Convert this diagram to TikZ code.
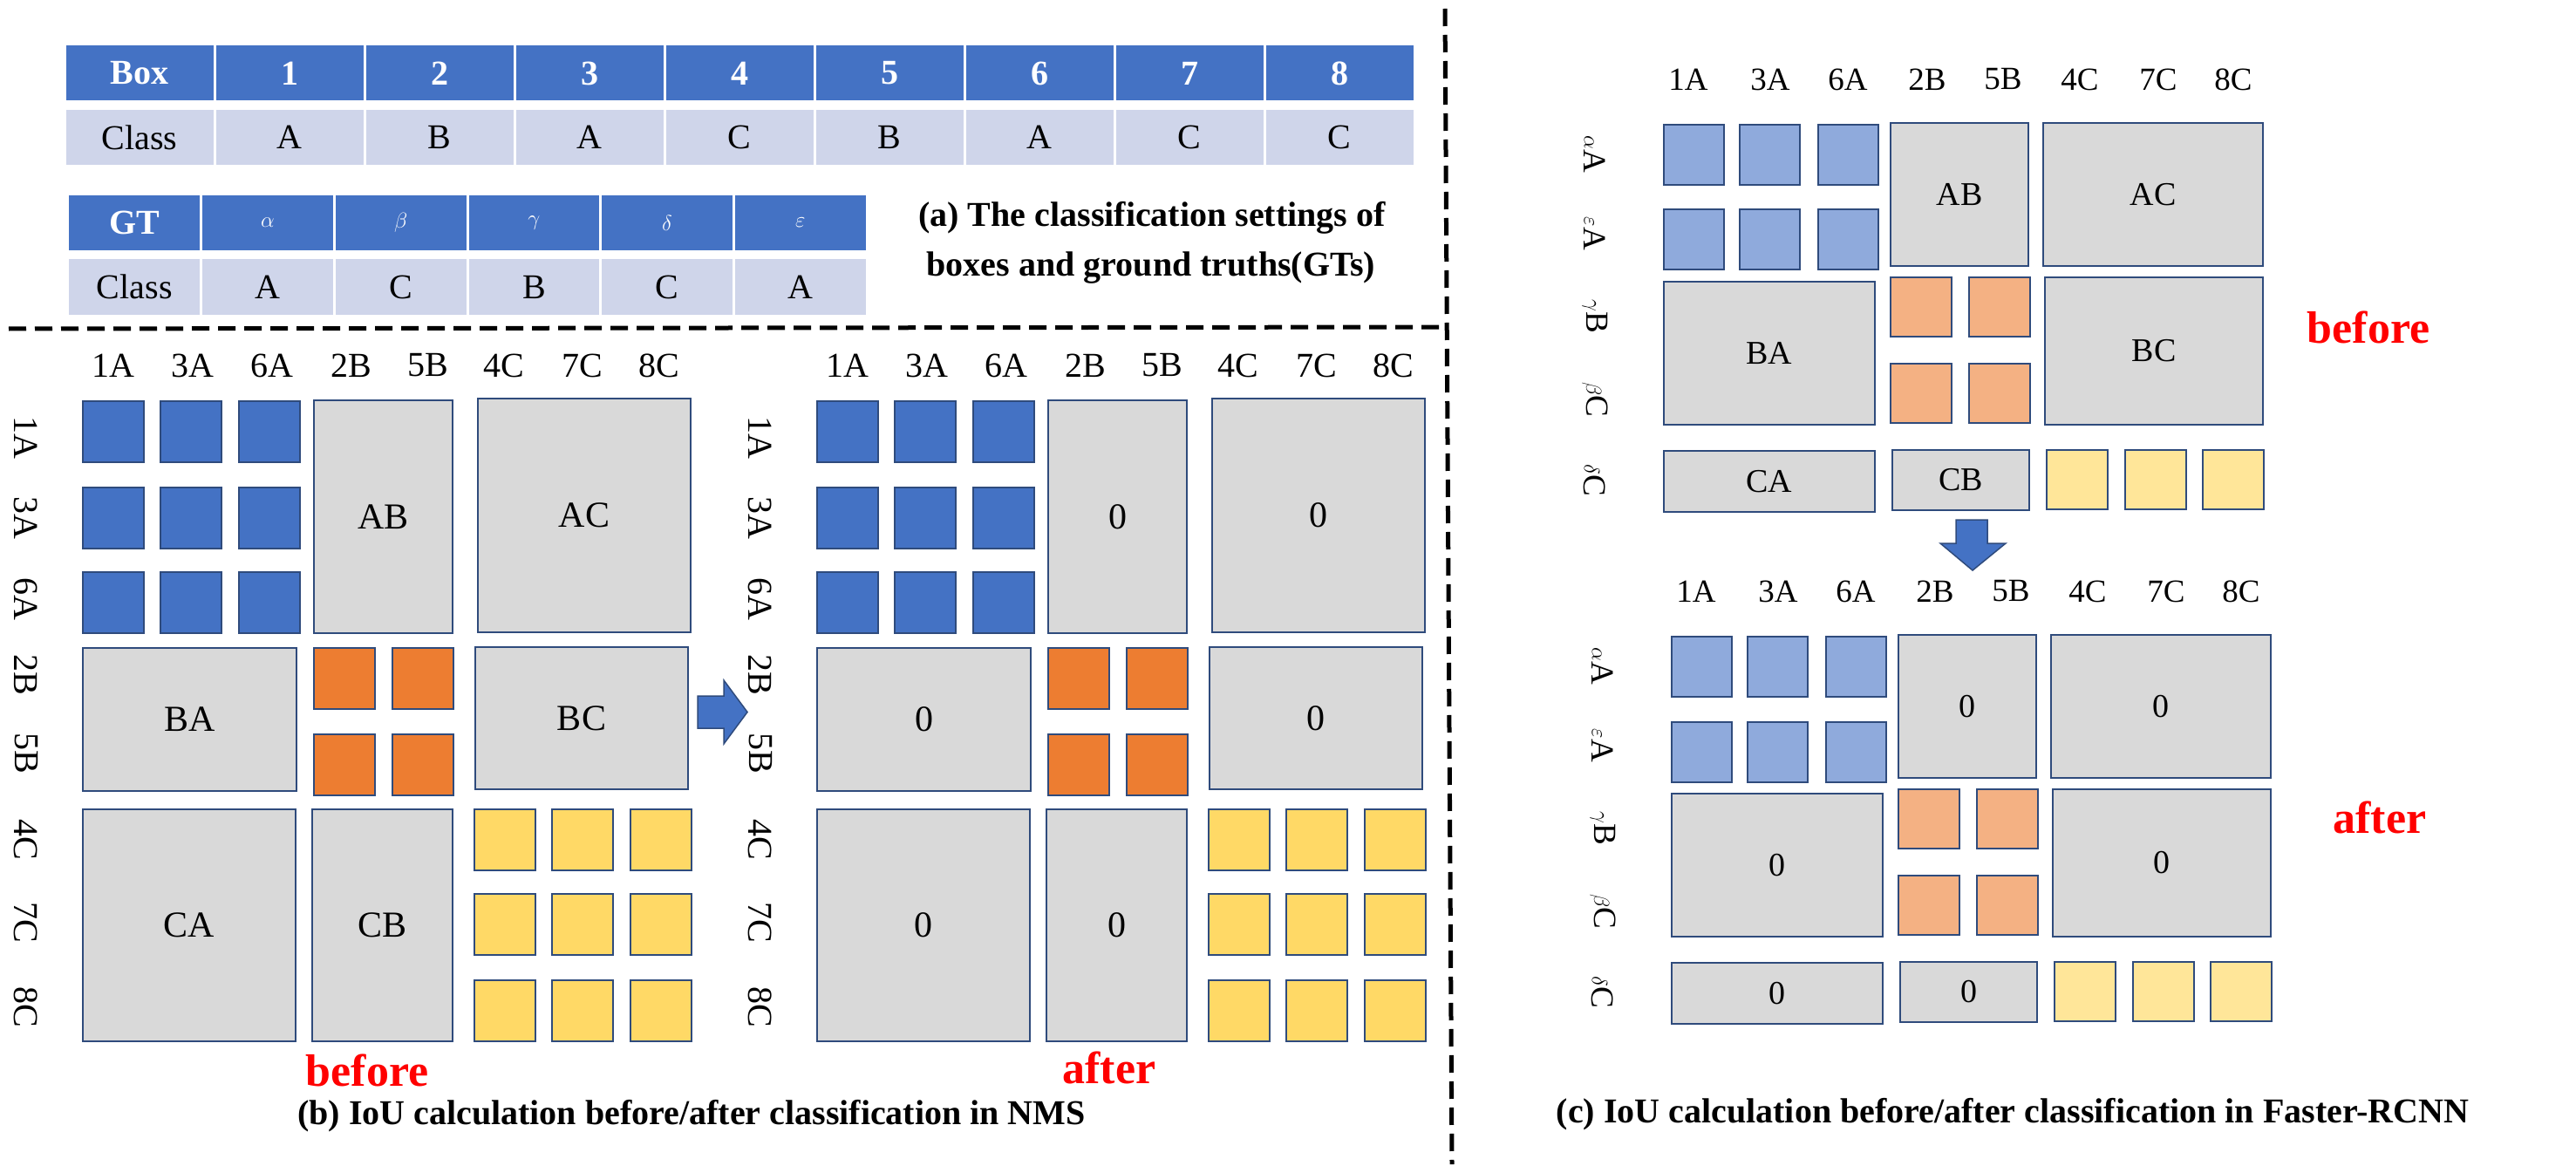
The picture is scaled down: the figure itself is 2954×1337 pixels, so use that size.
\documentclass[tikz,border=0pt]{standalone}
\usepackage{fontspec}
\setmainfont{Liberation Serif}
\begin{document}
\definecolor{hblue}{HTML}{4472C4}
\definecolor{rowc}{HTML}{CFD5EA}
\definecolor{dblue}{HTML}{4472C4}
\definecolor{dorange}{HTML}{ED7D31}
\definecolor{dyellow}{HTML}{FFD966}
\definecolor{lblue}{HTML}{8FAADC}
\definecolor{lorange}{HTML}{F4B183}
\definecolor{lyellow}{HTML}{FFE699}
\definecolor{cgrey}{HTML}{D9D9D9}
\definecolor{navy}{HTML}{2F4B7C}
\newcommand\fs[1]{\fontsize{#1}{#1}\selectfont}
\begin{tikzpicture}[x=1pt,y=-1pt,
  cell/.style={draw=navy,line width=2pt,inner sep=0pt,font=\fs{42}},
  tcell/.style={draw=white,line width=3pt,inner sep=0pt,minimum height=66,font=\fs{40}},
  th/.style={tcell,fill=hblue,text=white,font=\fs{40}\bfseries},
  tc/.style={tcell,fill=rowc},
  lab/.style={inner sep=0pt,font=\fs{40}},
  clab/.style={inner sep=0pt,font=\fs{37}},
  redlab/.style={inner sep=0pt,text=red,font=\fs{52}\bfseries},
  capt/.style={inner sep=0pt,font=\fs{40}\bfseries},
  sepline/.style={line width=5pt,dash pattern=on 20pt off 10pt}]
\useasboundingbox (0,0) rectangle (2954,1337);
% ---------- tables
\foreach \t [count=\i from 0] in {Box,1,2,3,4,5,6,7,8}
  \node[th,minimum width=172] (h\i) at (160+172*\i,84) {\t};
\foreach \t [count=\i from 0] in {Class,A,B,A,C,B,A,C,C}
  \node[tc,minimum width=172] (r\i) at (160+172*\i,157.5) {\t};
\foreach \t [count=\i from 0] in {GT,$\alpha$,$\beta$,$\gamma$,$\delta$,$\varepsilon$}
  \node[th,minimum width=152.7] (g\i) at (154.3+152.7*\i,255.5) {\t};
\foreach \t [count=\i from 0] in {Class,A,C,B,C,A}
  \node[tc,minimum width=152.7] (s\i) at (154.3+152.7*\i,329) {\t};
\node[capt] (capa1) at (1321,250) {(a) The classification settings of};
\node[capt] (capa2) at (1320,307) {boxes and ground truths(GTs)};
% ---------- dashed separators
\coordinate (hl) at (10,377); \coordinate (hr) at (1660,375);
\coordinate (vt) at (1657,10); \coordinate (vb) at (1665,1335);
\draw[sepline] (hl) -- (hr);
\draw[sepline] (vt) -- (vb);
% ---------- panel (b)
\foreach \p/\dx/\ab/\ac/\ba/\bc/\ca/\cb in {b/0/AB/AC/BA/BC/CA/CB, a/842/0/0/0/0/0/0}{
 \begin{scope}[shift={(\dx,0)}]
  \foreach \t/\x [count=\i] in {1A/130,3A/221,6A/312,2B/403,5B/491,4C/578,7C/668,8C/756}
    \node[lab] (\p col\i) at (\x,419) {\t};
  \foreach \t/\y [count=\i] in {1A/502,3A/594,6A/687,2B/774,5B/864,4C/963,7C/1058,8C/1155}
    \node[lab,rotate=-90] (\p row\i) at (30,\y) {\t};
  \foreach \x [count=\i] in {130,219,308.5}
   \foreach \y [count=\j] in {494.5,594,691}
    \node[cell,fill=dblue,minimum width=70,minimum height=70] (\p A\i\j) at (\x,\y) {};
  \foreach \x [count=\i] in {395,484.5}
   \foreach \y [count=\j] in {778,876.5}
    \node[cell,fill=dorange,minimum width=70,minimum height=70] (\p B\i\j) at (\x,\y) {};
  \foreach \x [count=\i] in {578.5,667.5,757.5}
   \foreach \y [count=\j] in {962.5,1059.5,1158.5}
    \node[cell,fill=dyellow,minimum width=70,minimum height=70] (\p C\i\j) at (\x,\y) {};
  \node[cell,fill=cgrey,minimum width=159,minimum height=267] (\p AB) at (439.5,592.5) {\ab};
  \node[cell,fill=cgrey,minimum width=244,minimum height=268] (\p AC) at (670,591) {\ac};
  \node[cell,fill=cgrey,minimum width=245,minimum height=164] (\p BA) at (217.5,825) {\ba};
  \node[cell,fill=cgrey,minimum width=244,minimum height=163] (\p BC) at (667,823.5) {\bc};
  \node[cell,fill=cgrey,minimum width=244,minimum height=266] (\p CA) at (217,1061) {\ca};
  \node[cell,fill=cgrey,minimum width=161,minimum height=266] (\p CB) at (438.5,1061) {\cb};
 \end{scope}}
\node[redlab] (bbefore) at (421,1227) {before};
\node[redlab] (bafter) at (1272,1224) {after};
\node[capt] (capb) at (793,1280) {(b) IoU calculation before/after classification in NMS};
\draw[fill=dblue,draw=navy,line width=1.5pt] (800,798) -- (830,798) -- (830,780) -- (857,816.5) -- (830,853) -- (830,835) -- (800,835) -- cycle;
% ---------- panel (c)
\foreach \p/\dx/\dy/\ab/\ac/\ba/\bc/\ca/\cb in {cb/0/0/AB/AC/BA/BC/CA/CB, ca/9/587/0/0/0/0/0/0}{
 \begin{scope}[shift={(\dx,\dy)}]
  \foreach \t/\x [count=\i] in {1A/1936,3A/2030,6A/2119,2B/2210,5B/2297,4C/2385,7C/2475,8C/2561}
    \node[clab] (\p col\i) at (\x,91) {\t};
  \foreach \t/\y [count=\i] in {$\alpha$A/177,$\varepsilon$A/268,$\gamma$B/363,$\beta$C/458,$\delta$C/551}
    \node[clab,rotate=-90] (\p row\i) at (1829,\y) {\t};
  \foreach \x [count=\i] in {1942,2029.5,2119.5}
   \foreach \y [count=\j] in {177.5,275}
    \node[cell,fill=lblue,minimum width=69,minimum height=69] (\p A\i\j) at (\x,\y) {};
  \foreach \x [count=\i] in {2203,2293}
   \foreach \y [count=\j] in {352,451}
    \node[cell,fill=lorange,minimum width=70,minimum height=68] (\p B\i\j) at (\x,\y) {};
  \foreach \x [count=\i] in {2382,2471.5,2560.5}
    \node[cell,fill=lyellow,minimum width=70,minimum height=68] (\p C\i) at (\x,550) {};
  \node[cell,fill=cgrey,font=\fs{38},minimum width=158,minimum height=164] (\p AB) at (2247,223) {\ab};
  \node[cell,fill=cgrey,font=\fs{38},minimum width=252,minimum height=164] (\p AC) at (2469,223) {\ac};
  \node[cell,fill=cgrey,font=\fs{38},minimum width=242,minimum height=164] (\p BA) at (2029,405) {\ba};
  \node[cell,fill=cgrey,font=\fs{38},minimum width=250,minimum height=169] (\p BC) at (2470,402.5) {\bc};
  \node[cell,fill=cgrey,font=\fs{38},minimum width=242,minimum height=70] (\p CA) at (2029,552) {\ca};
  \node[cell,fill=cgrey,font=\fs{38},minimum width=157,minimum height=69] (\p CB) at (2248.5,550.5) {\cb};
 \end{scope}}
\node[redlab] (cbefore) at (2716,375) {before};
\node[redlab] (cafter) at (2729,937) {after};
\draw[fill=dblue,draw=navy,line width=1.5pt] (2243,596) -- (2279,596) -- (2279,623) -- (2300,623) -- (2262,654) -- (2225,623) -- (2243,623) -- cycle;
\node[capt] (capc) at (2308,1278) {(c) IoU calculation before/after classification in Faster-RCNN};
\end{tikzpicture}
\end{document}
